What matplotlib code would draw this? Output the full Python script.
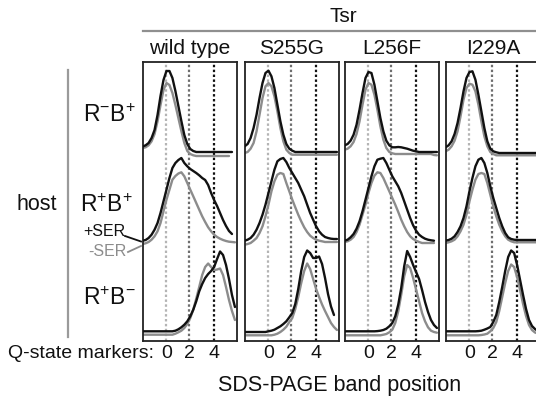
import numpy as np
import matplotlib
matplotlib.use('Agg')
import matplotlib.pyplot as plt
from matplotlib.lines import Line2D

nan = np.nan
plt.rcParams['font.family'] = ['Liberation Sans', 'DejaVu Sans']
plt.rcParams['mathtext.fontset'] = 'custom'
plt.rcParams['mathtext.rm'] = 'Liberation Sans'
plt.rcParams['mathtext.it'] = 'Liberation Sans:italic'
plt.rcParams['mathtext.bf'] = 'Liberation Sans:bold'

# ---------------- data ----------------
receptors = ['wild type', 'S255G', 'L256F', 'I229A']
hosts = [r'$\mathrm{R^{-}B^{+}}$', r'$\mathrm{R^{+}B^{+}}$', r'$\mathrm{R^{+}B^{-}}$']
marker_positions = [0.0, 1.9, 4.0]
marker_labels = ['0', '2', '4']

# band position grid (Q-state units)
band_pos = [-2.0, -1.75, -1.5, -1.25, -1.0, -0.75, -0.5, -0.25, 0.0, 0.25, 0.5, 0.75,
            1.0, 1.25, 1.5, 1.75, 2.0, 2.25, 2.5, 2.75, 3.0, 3.25, 3.5, 3.75,
            4.0, 4.25, 4.5, 4.75, 5.0, 5.25, 5.5, 5.75]

# intensities: black = +SER, gray = -SER
wt_r1_plus = [10.5, 11.7, 14, 19, 27, 42, 61, 77, 86, 86, 79, 66, 51, 36, 22, 13,
              8, 6, 5, 5, 5, 5, 5, 5, 5, 5, 5, 5, 5, 5, 5, nan]
wt_r1_minus = [9, 9.7, 11.7, 15.7, 23, 35.7, 52, 67, 74, 72, 64, 52, 39, 26, 14, 6,
               3, 1.7, 1, 1, 1, 1, 1, 1, 1, 1, 1, 1, 1, 1, nan, nan]
wt_r2_plus = [5.3, 6, 8, 11.3, 16.3, 23, 33, 44.7, 56.3, 68, 78, 83, 86, 88, 83, 79.7,
              77, 75, 73, 70.7, 68, 66, 61, 53, 46, 40, 33, 26, 20, 15, 12, nan]
wt_r2_minus = [2, 2.7, 4, 6.3, 9.7, 14.7, 23, 34.7, 46.3, 56.3, 66.3, 70, 72.5, 73.7, 69.7, 63,
               56.3, 49.7, 43, 36.3, 29.7, 24, 18.7, 14.7, 11.3, 9, 7.3, 6, 5, 4.3, 4, 3.7]
wt_r3_plus = [5.7, 5.7, 5.7, 5.7, 5.7, 5.7, 5.7, 5.7, 5.7, 5.7, 5.7, 6.3, 7.7, 9.7, 12.3, 15.7,
              20.7, 27.3, 35.7, 45.7, 53, 59, 63, 66, 70, 78, 85.5, 82, 72, 58, 42, 30]
wt_r3_minus = [2.3, 2.3, 2.3, 2.3, 2.3, 2.3, 2.3, 2.3, 2.3, 2.3, 2.3, 3.3, 4.7, 6.3, 9, 13,
               19, 27.3, 38.3, 50, 62, 70, 73.5, 70, 67, 67.5, 68.5, 62, 50, 37, 26, 17]

s_r1_plus = [10.7, 13, 19, 29, 42.3, 59, 74, 84, 86.3, 80.7, 69, 52.3, 35.7, 22.3, 13, 8.3,
             6.3, 5, 5, 5, 5, 5, 5, 5, 5, 5, 5, 5, 5, 5, 5, 5]
s_r1_minus = [4, 5, 8.3, 14, 25.7, 42.3, 59, 70.7, 74, 70.7, 60.7, 45.7, 29, 15.7, 7.3, 4,
              2.3, 2.3, 2.3, 2.3, 2.3, 2.3, 2.3, 2.3, 2.3, 2.3, 2.3, 2.3, 2.3, 2.3, 2.3, 2.3]
s_r2_plus = [5.3, 6.3, 8, 11.3, 16.3, 23, 31.3, 41.3, 53, 64.7, 76.3, 84.7, 87, 88, 84, 78,
             73, 68, 63, 56.3, 49.7, 41.3, 33, 26.3, 19.7, 14.7, 11.3, 9, 8, 7.3, 7, 7]
s_r2_minus = [1.3, 2, 3, 5.3, 8, 13, 19.7, 29.7, 41.3, 54.7, 64.7, 71.3, 73, 72, 63, 54.7,
              46.3, 38.7, 31.3, 24.7, 18.7, 14, 10.3, 8, 6.3, 5.3, 4.7, 4, 4, 4, 4, 4]
s_r3_plus = [5, 5, 5, 5, 5, 5, 5, 5, 5.7, 6.3, 7.3, 9, 10.7, 13, 15.7, 19.7,
             24, 33, 48, 66, 80, 86.5, 84, 79, 79, 80.5, 73, 59, 43, 30.5, 22, nan]
s_r3_minus = [1.7, 1.7, 1.7, 1.7, 1.7, 1.7, 1.7, 1.7, 1.7, 1.7, 2.3, 3.3, 5, 7.3, 10.3, 15,
              19, 28, 40, 54, 66, 73.5, 68, 58, 48, 40, 32.5, 26, 20, 14, 10, 7]

l_r1_plus = [11.7, 13, 16.3, 22.3, 32.3, 47.3, 64, 79, 85, 84, 72.3, 55.7, 39, 25.7, 16.3, 11.7,
             9.7, 9.7, 10, 9.7, 9, 8.3, 7.3, 6.3, 5.7, 5, 5, 5, 5, 5, 5, 5]
l_r1_minus = [7.3, 8.3, 10.7, 15, 23, 35.7, 52.3, 67.3, 74, 72.3, 62.3, 47.3, 30.7, 17.3, 9, 5,
              3.7, 3, 3, 3, 3, 3, 3, 3, 3, 3, 3, 3, 3, 3, 2, 1.7]
l_r2_plus = [5.3, 6.3, 8.7, 12, 17.3, 24.7, 34.7, 46.3, 58, 69.7, 79.7, 86.3, 87.3, 88, 83, 76.3,
             69.7, 64.7, 59.7, 53, 44.7, 36.3, 28, 20.7, 15.3, 11.3, 9, 7.3, 6.3, 5.7, 5.3, nan]
l_r2_minus = [4, 4.7, 6.3, 9, 14, 21.3, 31.3, 41.3, 53, 63, 70.3, 73.7, 73, 68, 61.3, 54.7,
              48, 41.3, 34, 26.3, 19.7, 14, 9.7, 7, 5.3, 4, 3, 3, 3, 3, 3, nan]
l_r3_plus = [5.7, 5.7, 5.7, 5.7, 5.7, 5.7, 5.7, 5.7, 5.7, 5.7, 5.7, 5.9, 6.3, 7, 8.3, 10.7,
             14, 20.7, 32.3, 49, 70.7, 86, 80, 72, 65, 58, 47, 35, 25, 17, 12, 9]
l_r3_minus = [1.7, 1.7, 1.7, 1.7, 1.7, 1.7, 1.7, 1.7, 1.7, 1.7, 1.7, 1.7, 1.7, 2.3, 3, 4.7,
              7.3, 14, 25.7, 42.3, 60.7, 72, 69, 59, 47.3, 35.7, 24, 15.7, 9.7, 6.3, 5, 4.3]

i_r1_plus = [9.7, 11.7, 15.7, 23, 34, 49, 65.7, 79, 85, 85.7, 77.3, 62.3, 45.7, 29, 15.7, 8.3,
             5.7, 4.7, 4, 4, 4, 4, 4, 4, 4, 4, 4, 4, 4, 4, 4, 4]
i_r1_minus = [5.7, 7.3, 10.7, 16.3, 25.7, 40.7, 57.3, 69, 73.3, 72.3, 65.7, 52.3, 35.7, 20.7, 10.7, 5,
              3, 1.7, 1.7, 1.7, 1.7, 1.7, 1.7, 1.7, 1.7, 1.7, 1.7, 1.7, 1.7, 1.7, 1.7, 1.7]
i_r2_plus = [5.3, 6, 7.3, 9.7, 14, 19.7, 28, 39.7, 54.7, 68, 79.7, 86.3, 88, 83, 73, 59.7,
             48, 38, 28, 19.7, 13, 8.7, 7, 6.3, 6, 6, 6, 6, 6, 6, 6, 6]
i_r2_minus = [3, 3.7, 4.7, 6.3, 9.7, 14.7, 21.3, 31.3, 44.7, 56.3, 66.3, 72, 73, 72, 63, 51.3,
              39.7, 29.7, 21.3, 14.7, 9.7, 6.3, 4.7, 3.7, 3.7, 3.7, 3.7, 3.7, 3.7, 3.7, 3.7, 3.7]
i_r3_plus = [5.7, 5.7, 5.7, 5.7, 5.7, 5.7, 5.7, 5.7, 5.7, 5.7, 5.7, 5.9, 6.3, 7.3, 8.5, 10,
             15, 22, 35, 50, 66, 80, 86.5, 84, 72, 57, 42, 28, 17, 11, 8, 6]
i_r3_minus = [1.7, 1.7, 1.7, 1.7, 1.7, 1.7, 1.7, 1.7, 1.7, 1.7, 1.7, 1.7, 2, 2.5, 3.3, 5.7,
              9, 15, 26, 40, 54, 66, 72.5, 70, 60, 47, 33, 21, 12, 7, 4.5, 3.5]

plus_ser = [[wt_r1_plus, wt_r2_plus, wt_r3_plus],
            [s_r1_plus, s_r2_plus, s_r3_plus],
            [l_r1_plus, l_r2_plus, l_r3_plus],
            [i_r1_plus, i_r2_plus, i_r3_plus]]
minus_ser = [[wt_r1_minus, wt_r2_minus, wt_r3_minus],
             [s_r1_minus, s_r2_minus, s_r3_minus],
             [l_r1_minus, l_r2_minus, l_r3_minus],
             [i_r1_minus, i_r2_minus, i_r3_minus]]

# ---------------- layout ----------------
W, H = 536, 400
fig = plt.figure(figsize=(W / 100, H / 100), dpi=100)


def fx(px):
    return px / W


def fy(py):
    return 1 - py / H


box_top, box_bot = 62, 341
col_left = [143, 245, 345, 446]
col_w = 93.5
row_base = [184, 95, 4]
black = '#111111'
gray = '#8c8c8c'
marker_colors = ['#b4b4b4', '#6e6e6e', '#111111']

x = np.array(band_pos)
for c, name in enumerate(receptors):
    ax = fig.add_axes([fx(col_left[c]), fy(box_bot), fx(col_w), (box_bot - box_top) / H])
    ax.set_xlim(-1.97, 5.88)
    ax.set_ylim(0, box_bot - box_top)
    for mp, mc in zip(marker_positions, marker_colors):
        ax.axvline(mp, color=mc, lw=1.6, ls=(0, (1.1, 1.1)), zorder=1)
    for r in range(3):
        ax.plot(x, row_base[r] + np.array(minus_ser[c][r], dtype=float), color=gray, lw=1.7,
                zorder=2, solid_capstyle='round')
        ax.plot(x, row_base[r] + np.array(plus_ser[c][r], dtype=float), color=black, lw=1.7,
                zorder=3, solid_capstyle='round')
    for s in ax.spines.values():
        s.set_linewidth(1.3)
        s.set_color('#222222')
    ax.set_yticks([])
    ax.set_xticks(marker_positions)
    ax.set_xticklabels(marker_labels, fontsize=14, color='#111111')
    ax.tick_params(axis='x', length=0, pad=3)
    fig.text(fx(col_left[c] + col_w / 2), fy(48), name, fontsize=15, ha='center',
             va='center', color='#111111')

# header
fig.text(fx(343), fy(17), 'Tsr', fontsize=15, ha='center', va='center', color='#111111')
fig.add_artist(Line2D([fx(143), fx(536)], [fy(31), fy(31)], color='#8f8f8f', lw=1.6))

# host labels
fig.add_artist(Line2D([fx(68), fx(68)], [fy(70), fy(337)], color='#9a9a9a', lw=1.6))
fig.text(fx(17), fy(210), 'host', fontsize=15.5, ha='left', va='baseline', color='#111111')
host_baselines = [122, 212, 305]
host_left = [83, 80, 83]
for lab, b, l in zip(hosts, host_baselines, host_left):
    fig.text(fx(l), fy(b), lab, fontsize=16.5, ha='left', va='baseline', color='#111111')

fig.text(fx(83), fy(236), '+SER', fontsize=11.5, ha='left', va='baseline', color='#111111')
fig.add_artist(Line2D([fx(125), fx(141)], [fy(236), fy(241.5)], color='#111111', lw=1.3))
fig.text(fx(88), fy(256), '-SER', fontsize=11.5, ha='left', va='baseline', color='#8c8c8c')
fig.add_artist(Line2D([fx(128), fx(141)], [fy(252), fy(246)], color='#8c8c8c', lw=1.3))

fig.text(fx(8), fy(353), 'Q-state markers:', fontsize=14, ha='left', va='center', color='#111111')
fig.text(fx(340), fy(385), 'SDS-PAGE band position', fontsize=15.5, ha='center', va='center',
         color='#111111')

fig.savefig('out.png', dpi=100)
